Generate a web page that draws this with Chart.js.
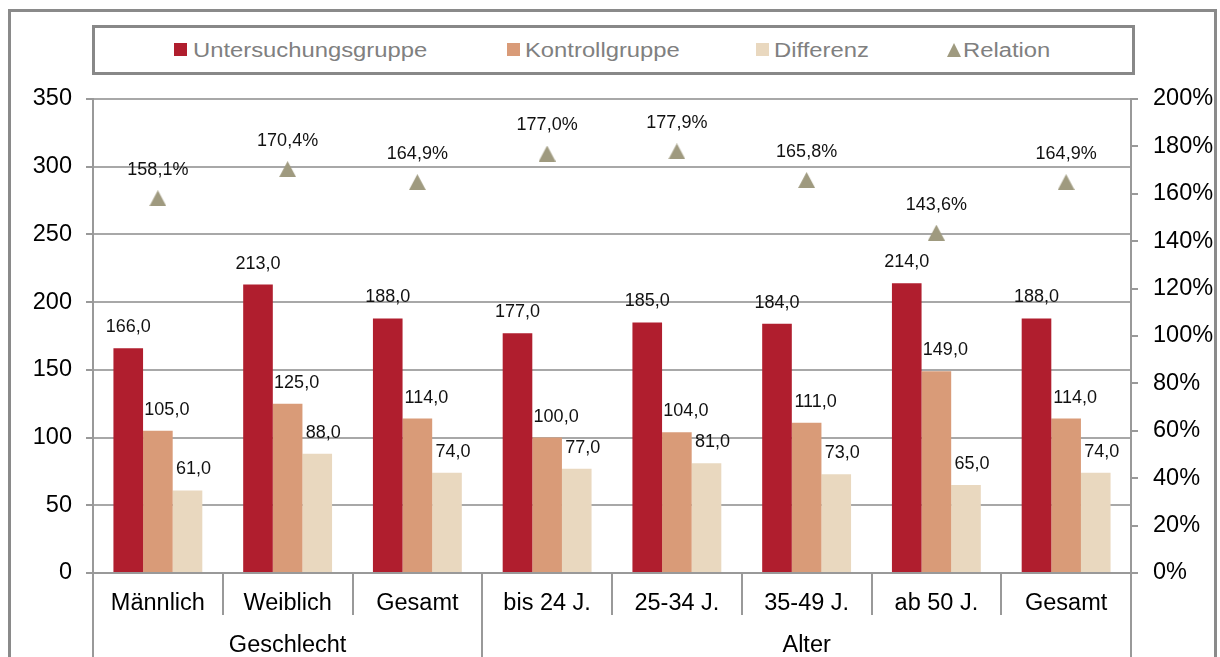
<!DOCTYPE html>
<html>
<head>
<meta charset="utf-8">
<script src="https://cdn.jsdelivr.net/npm/chart.js@4.4.1/dist/chart.umd.min.js"></script>
<style>
  html, body { margin: 0; padding: 0; background: #fff; }
  #wrap { position: relative; width: 1220px; height: 657px; overflow: hidden; font-family: "Liberation Sans", Arial, sans-serif; }
  #frame { position: absolute; left: 8px; top: 9px; width: 1209px; height: 700px; border: 3px solid #8a8a8a; box-sizing: border-box; }
  #legend { position: absolute; left: 92px; top: 25px; width: 1043px; height: 50px; border: 3px solid #888; box-sizing: border-box; }
  .lg-sq { position: absolute; width: 13px; height: 13px; top: 43px; }
  .lg-tri { position: absolute; width: 0; height: 0; top: 43px; border-left: 7px solid transparent; border-right: 7px solid transparent; border-bottom: 14px solid #9f9a7f; }
  .lg-tx { position: absolute; top: 40px; font-size: 20px; line-height: 20px; color: #808080; white-space: nowrap; transform: scaleX(1.19); transform-origin: left center; }
  canvas { position: absolute; left: 0; top: 0; }
</style>
</head>
<body>
<div id="wrap">
  <div id="frame"></div>
  <div id="legend"></div>
  <div id="lgItems"></div>
  <canvas id="c" width="1220" height="657"></canvas>
</div>
<script>
// ---- Data ----
const categories = ['Männlich', 'Weiblich', 'Gesamt', 'bis 24 J.', '25-34 J.', '35-49 J.', 'ab 50 J.', 'Gesamt'];
const groupLabels = ['Geschlecht', 'Alter'];
const groupSizes = [3, 5];
const untersuchungsgruppe = [166.0, 213.0, 188.0, 177.0, 185.0, 184.0, 214.0, 188.0];
const kontrollgruppe = [105.0, 125.0, 114.0, 100.0, 104.0, 111.0, 149.0, 114.0];
const differenz = [61.0, 88.0, 74.0, 77.0, 81.0, 73.0, 65.0, 74.0];
const relation = [158.1, 170.4, 164.9, 177.0, 177.9, 165.8, 143.6, 164.9];
const seriesNames = ['Untersuchungsgruppe', 'Kontrollgruppe', 'Differenz', 'Relation'];

// ---- Styles ----
const colors = ['#b01e2e', '#d99b78', '#e9d8bf', '#9f9a7f'];
const FONT = '"Liberation Sans", Arial, sans-serif';
const gridColor = '#a8a8a8';
const axisColor = '#999999';

// HTML legend
const lgPos = [[174, 193], [507, 525], [756, 774], [947, 963]];
const lg = document.getElementById('lgItems');
seriesNames.forEach((n, i) => {
  const m = document.createElement('div');
  if (i < 3) { m.className = 'lg-sq'; m.style.background = colors[i]; }
  else { m.className = 'lg-tri'; }
  m.style.left = lgPos[i][0] + 'px';
  lg.appendChild(m);
  const t = document.createElement('div');
  t.className = 'lg-tx';
  t.style.left = lgPos[i][1] + 'px';
  t.textContent = n;
  lg.appendChild(t);
});

// Triangle marker image
const tri = document.createElement('canvas');
tri.width = 17; tri.height = 16;
(function () {
  const g = tri.getContext('2d');
  g.fillStyle = colors[3];
  g.beginPath(); g.moveTo(0, 16); g.lineTo(8.5, 0); g.lineTo(17, 16); g.closePath(); g.fill();
})();

const fmt = v => v.toFixed(1).replace('.', ',');

const labelPlugin = {
  id: 'valueLabels',
  afterDatasetsDraw(chart) {
    const ctx = chart.ctx;
    ctx.save();
    ctx.font = '18px ' + FONT;
    ctx.fillStyle = '#111';
    ctx.textAlign = 'center';
    ctx.textBaseline = 'middle';
    const xOff = [0, 9, 6];
    chart.data.datasets.forEach((ds, di) => {
      const meta = chart.getDatasetMeta(di);
      meta.data.forEach((el, i) => {
        if (ds.type === 'line') {
          ctx.fillText(fmt(ds.data[i]) + '%', el.x, el.y - 28);
        } else {
          ctx.fillText(fmt(ds.data[i]), el.x + xOff[di], el.y - 21);
        }
      });
    });
    ctx.restore();
  }
};

const groupPlugin = {
  id: 'groupAxis',
  afterDraw(chart) {
    const ctx = chart.ctx;
    const xs = chart.scales.x;
    const a = chart.chartArea;
    const n = categories.length;
    const step = (xs.getPixelForValue(1) - xs.getPixelForValue(0));
    const edge = i => i === 0 ? a.left : (i === n ? a.right : xs.getPixelForValue(i) - step / 2);
    ctx.save();
    ctx.strokeStyle = axisColor;
    ctx.lineWidth = 2;
    const groupEdges = [0];
    groupSizes.forEach(s => groupEdges.push(groupEdges[groupEdges.length - 1] + s));
    for (let i = 0; i <= n; i++) {
      const x = Math.round(edge(i));
      const isGroup = groupEdges.includes(i);
      ctx.beginPath();
      ctx.moveTo(x, a.bottom);
      ctx.lineTo(x, isGroup ? 660 : a.bottom + 42);
      ctx.stroke();
    }
    ctx.fillStyle = '#000';
    ctx.font = '23.5px ' + FONT;
    ctx.textAlign = 'center';
    ctx.textBaseline = 'middle';
    groupLabels.forEach((g, gi) => {
      const cx = (edge(groupEdges[gi]) + edge(groupEdges[gi + 1])) / 2;
      ctx.fillText(g, cx, 646);
    });
    ctx.restore();
  }
};

const barBase = { categoryPercentage: 0.685, barPercentage: 1.0, borderWidth: 0, yAxisID: 'y', order: 2 };

new Chart(document.getElementById('c'), {
  type: 'bar',
  data: {
    labels: categories,
    datasets: [
      Object.assign({ label: seriesNames[0], data: untersuchungsgruppe, backgroundColor: colors[0] }, barBase),
      Object.assign({ label: seriesNames[1], data: kontrollgruppe, backgroundColor: colors[1] }, barBase),
      Object.assign({ label: seriesNames[2], data: differenz, backgroundColor: colors[2] }, barBase),
      {
        type: 'line', label: seriesNames[3], data: relation, yAxisID: 'y1', order: 1,
        showLine: false, pointStyle: tri, pointRadius: 9, pointHoverRadius: 9,
        backgroundColor: colors[3], borderColor: colors[3]
      }
    ]
  },
  options: {
    responsive: false,
    animation: false,
    events: [],
    layout: { padding: { top: 99, left: 0, right: 0, bottom: 0 } },
    plugins: { legend: { display: false }, tooltip: { enabled: false } },
    scales: {
      x: {
        offset: true,
        grid: { display: false },
        border: { display: true, color: axisColor, width: 2 },
        ticks: { color: '#000', font: { family: FONT, size: 23.5 }, padding: 8, maxRotation: 0, autoSkip: false },
        afterFit(s) { s.height = 84; }
      },
      y: {
        position: 'left', min: 0, max: 350,
        ticks: { stepSize: 50, color: '#000', font: { family: FONT, size: 23.5 }, padding: 14 },
        grid: { color: gridColor, lineWidth: 2, tickLength: 7, tickColor: axisColor },
        border: { display: true, color: axisColor, width: 2 },
        afterFit(s) { s.width = 93; }
      },
      y1: {
        position: 'right', min: 0, max: 200,
        ticks: { stepSize: 20, color: '#000', font: { family: FONT, size: 23.5 }, padding: 15, callback: v => v + '%' },
        grid: { drawOnChartArea: false, tickLength: 7, color: axisColor, lineWidth: 2 },
        border: { display: true, color: axisColor, width: 2 },
        afterFit(s) { s.width = 89; }
      }
    }
  },
  plugins: [labelPlugin, groupPlugin]
});
</script>
</body>
</html>
